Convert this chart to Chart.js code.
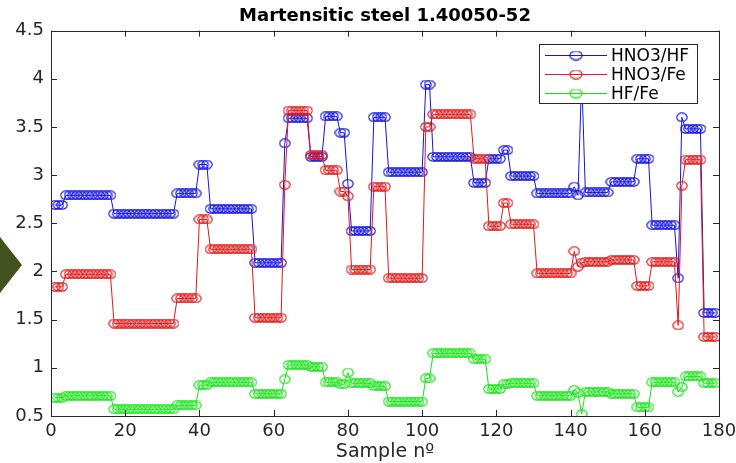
<!DOCTYPE html>
<html>
<head>
<meta charset="utf-8">
<script src="https://cdn.jsdelivr.net/npm/chart.js@4.4.0/dist/chart.umd.min.js"></script>
<style>
  html, body { margin: 0; padding: 0; background: #fff; }
  #wrap { width: 736px; height: 463px; }
</style>
</head>
<body>
<div id="wrap"><canvas id="myChart" width="736" height="463"></canvas></div>
<script>
// values, sample 1 .. 179
var hno3HF = [
  2.69, 2.69, 2.69,
  2.79, 2.79, 2.79, 2.79, 2.79, 2.79, 2.79, 2.79, 2.79, 2.79, 2.79, 2.79, 2.79,
  2.60, 2.60, 2.60, 2.60, 2.60, 2.60, 2.60, 2.60, 2.60, 2.60, 2.60, 2.60, 2.60, 2.60, 2.60, 2.60, 2.60,
  2.81, 2.81, 2.81, 2.81, 2.81, 2.81,
  3.11, 3.11, 3.11,
  2.65, 2.65, 2.65, 2.65, 2.65, 2.65, 2.65, 2.65, 2.65, 2.65, 2.65, 2.65,
  2.09, 2.09, 2.09, 2.09, 2.09, 2.09, 2.09, 2.09,
  3.33,
  3.59, 3.59, 3.59, 3.59, 3.59, 3.59,
  3.19, 3.19, 3.19, 3.19,
  3.61, 3.61, 3.61, 3.61,
  3.44, 3.44,
  2.91,
  2.42, 2.42, 2.42, 2.42, 2.42, 2.42,
  3.60, 3.60, 3.60, 3.60,
  3.03, 3.03, 3.03, 3.03, 3.03, 3.03, 3.03, 3.03, 3.03, 3.03,
  3.94, 3.94,
  3.19, 3.19, 3.19, 3.19, 3.19, 3.19, 3.19, 3.19, 3.19, 3.19, 3.19,
  2.92, 2.92, 2.92, 2.92,
  3.17, 3.17, 3.17, 3.17,
  3.26, 3.26,
  2.99, 2.99, 2.99, 2.99, 2.99, 2.99, 2.99,
  2.81, 2.81, 2.81, 2.81, 2.81, 2.81, 2.81, 2.81, 2.81, 2.81,
  2.88, 2.79, 4.02,
  2.82, 2.82, 2.82, 2.82, 2.82, 2.82, 2.82,
  2.93, 2.93, 2.93, 2.93, 2.93, 2.93, 2.93,
  3.17, 3.17, 3.17, 3.17,
  2.48, 2.48, 2.48, 2.48, 2.48, 2.48, 2.48,
  1.93, 3.60,
  3.48, 3.48, 3.48, 3.48, 3.48,
  1.57, 1.57, 1.57, 1.57
];

var hno3Fe = [
  1.84, 1.84, 1.84,
  1.97, 1.97, 1.97, 1.97, 1.97, 1.97, 1.97, 1.97, 1.97, 1.97, 1.97, 1.97, 1.97,
  1.46, 1.46, 1.46, 1.46, 1.46, 1.46, 1.46, 1.46, 1.46, 1.46, 1.46, 1.46, 1.46, 1.46, 1.46, 1.46, 1.46,
  1.72, 1.72, 1.72, 1.72, 1.72, 1.72,
  2.54, 2.54, 2.54,
  2.23, 2.23, 2.23, 2.23, 2.23, 2.23, 2.23, 2.23, 2.23, 2.23, 2.23, 2.23,
  1.52, 1.52, 1.52, 1.52, 1.52, 1.52, 1.52, 1.52,
  2.90,
  3.67, 3.67, 3.67, 3.67, 3.67, 3.67,
  3.21, 3.21, 3.21, 3.21,
  3.05, 3.05, 3.05, 3.05,
  2.83, 2.83,
  2.78,
  2.02, 2.02, 2.02, 2.02, 2.02, 2.02,
  2.88, 2.88, 2.88, 2.88,
  1.93, 1.93, 1.93, 1.93, 1.93, 1.93, 1.93, 1.93, 1.93, 1.93,
  3.50, 3.50,
  3.63, 3.63, 3.63, 3.63, 3.63, 3.63, 3.63, 3.63, 3.63, 3.63, 3.63,
  3.17, 3.17, 3.17, 3.17,
  2.47, 2.47, 2.47, 2.47,
  2.71, 2.71,
  2.49, 2.49, 2.49, 2.49, 2.49, 2.49, 2.49,
  1.98, 1.98, 1.98, 1.98, 1.98, 1.98, 1.98, 1.98, 1.98, 1.98,
  2.21, 2.05, 2.09,
  2.10, 2.10, 2.10, 2.10, 2.10, 2.10, 2.10,
  2.12, 2.12, 2.12, 2.12, 2.12, 2.12, 2.12,
  1.85, 1.85, 1.85, 1.85,
  2.10, 2.10, 2.10, 2.10, 2.10, 2.10, 2.10,
  1.44, 2.89,
  3.16, 3.16, 3.16, 3.16, 3.16,
  1.32, 1.32, 1.32, 1.32
];

var hfFe = [
  0.69, 0.69, 0.69,
  0.71, 0.71, 0.71, 0.71, 0.71, 0.71, 0.71, 0.71, 0.71, 0.71, 0.71, 0.71, 0.71,
  0.57, 0.57, 0.57, 0.57, 0.57, 0.57, 0.57, 0.57, 0.57, 0.57, 0.57, 0.57, 0.57, 0.57, 0.57, 0.57, 0.57,
  0.61, 0.61, 0.61, 0.61, 0.61, 0.61,
  0.82, 0.82, 0.82,
  0.85, 0.85, 0.85, 0.85, 0.85, 0.85, 0.85, 0.85, 0.85, 0.85, 0.85, 0.85,
  0.73, 0.73, 0.73, 0.73, 0.73, 0.73, 0.73, 0.73,
  0.88,
  1.03, 1.03, 1.03, 1.03, 1.03, 1.03,
  1.01, 1.01, 1.01, 1.01,
  0.85, 0.85, 0.85, 0.85,
  0.83, 0.83,
  0.95,
  0.84, 0.84, 0.84, 0.84, 0.84, 0.84,
  0.81, 0.81, 0.81, 0.81,
  0.65, 0.65, 0.65, 0.65, 0.65, 0.65, 0.65, 0.65, 0.65, 0.65,
  0.89, 0.89,
  1.15, 1.15, 1.15, 1.15, 1.15, 1.15, 1.15, 1.15, 1.15, 1.15, 1.15,
  1.09, 1.09, 1.09, 1.09,
  0.78, 0.78, 0.78, 0.78,
  0.83, 0.83,
  0.84, 0.84, 0.84, 0.84, 0.84, 0.84, 0.84,
  0.71, 0.71, 0.71, 0.71, 0.71, 0.71, 0.71, 0.71, 0.71, 0.71,
  0.77, 0.74, 0.52,
  0.75, 0.75, 0.75, 0.75, 0.75, 0.75, 0.75,
  0.73, 0.73, 0.73, 0.73, 0.73, 0.73, 0.73,
  0.59, 0.59, 0.59, 0.59,
  0.85, 0.85, 0.85, 0.85, 0.85, 0.85, 0.85,
  0.75, 0.80,
  0.91, 0.91, 0.91, 0.91, 0.91,
  0.84, 0.84, 0.84, 0.84
];

var seriesNames = ['HNO3/HF', 'HNO3/Fe', 'HF/Fe'];
var seriesColors = ['#1414e0', '#e41818', '#16e616'];
var xTicks = [0, 20, 40, 60, 80, 100, 120, 140, 160, 180];
var yTicks = [0.5, 1, 1.5, 2, 2.5, 3, 3.5, 4, 4.5];

var FONT = 'DejaVu Sans';
var AXIS_COL = '#262626';

// sample numbers are just the index + 1
var sampleNo = hno3HF.map(function (v, i) { return i + 1; });

function toPoints(arr) {
  return arr.map(function (v, i) { return { x: sampleNo[i], y: v }; });
}

// open marker, a bit wider than tall like in the picture
function ring(color, w, h) {
  var c = document.createElement('canvas');
  c.width = w; c.height = h;
  var g = c.getContext('2d');
  g.strokeStyle = color;
  g.lineWidth = 1.1;
  g.beginPath();
  g.ellipse(w / 2, h / 2, w / 2 - 0.8, h / 2 - 0.8, 0, 0, Math.PI * 2);
  g.stroke();
  return c;
}

// box round the axes with inward ticks on every side
var framePlugin = {
  id: 'frame',
  afterDatasetsDraw: function (chart) {
    var ctx = chart.ctx, a = chart.chartArea;
    var xs = chart.scales.x, ys = chart.scales.y;
    ctx.save();
    ctx.strokeStyle = AXIS_COL;
    ctx.lineWidth = 1;
    ctx.beginPath();
    xTicks.forEach(function (t) {
      var px = Math.round(xs.getPixelForValue(t)) + 0.5;
      ctx.moveTo(px, a.bottom); ctx.lineTo(px, a.bottom - 6);
      ctx.moveTo(px, a.top); ctx.lineTo(px, a.top + 6);
    });
    yTicks.forEach(function (t) {
      var py = Math.round(ys.getPixelForValue(t)) + 0.5;
      ctx.moveTo(a.left, py); ctx.lineTo(a.left + 6, py);
      ctx.moveTo(a.right, py); ctx.lineTo(a.right - 6, py);
    });
    ctx.stroke();
    ctx.strokeRect(Math.round(a.left) + 0.5, Math.round(a.top) + 0.5,
      Math.round(a.right - a.left), Math.round(a.bottom - a.top));
    ctx.restore();
  }
};

// legend in the upper right, inside the axes, drawn over the lines
var legendPlugin = {
  id: 'boxLegend',
  afterDatasetsDraw: function (chart) {
    var ctx = chart.ctx;
    var bx = 539.5, by = 44.5, bw = 158, bh = 59;
    ctx.save();
    ctx.fillStyle = '#fff';
    ctx.fillRect(bx, by, bw, bh);
    ctx.strokeStyle = AXIS_COL;
    ctx.lineWidth = 1;
    ctx.strokeRect(bx, by, bw, bh);
    ctx.font = '17px "' + FONT + '"';
    ctx.textBaseline = 'middle';
    ctx.textAlign = 'left';
    seriesNames.forEach(function (name, i) {
      var ry = Math.round(by + 10.5 + i * 19) + 0.5;
      ctx.strokeStyle = seriesColors[i];
      ctx.beginPath();
      ctx.moveTo(545, ry); ctx.lineTo(607, ry);
      ctx.stroke();
      ctx.drawImage(ring(seriesColors[i], 14, 10), 576 - 7, ry - 5);
      ctx.fillStyle = '#000';
      ctx.fillText(name, 611, ry + 1);
    });
    ctx.restore();
  }
};

// dark arrow tip at the left edge of the picture
var arrowPlugin = {
  id: 'arrowTip',
  afterDraw: function (chart) {
    var ctx = chart.ctx;
    ctx.save();
    ctx.fillStyle = '#44521f';
    ctx.beginPath();
    ctx.moveTo(0, 237);
    ctx.lineTo(22, 265);
    ctx.lineTo(0, 293);
    ctx.closePath();
    ctx.fill();
    ctx.restore();
  }
};

var ctx = document.getElementById('myChart').getContext('2d');
var datasets = [hno3HF, hno3Fe, hfFe].map(function (arr, i) {
  return {
    label: seriesNames[i],
    data: toPoints(arr),
    borderColor: seriesColors[i],
    backgroundColor: 'transparent',
    borderWidth: 1,
    pointStyle: ring(seriesColors[i], 12, 10),
    pointRadius: 5,
    pointHoverRadius: 5,
    tension: 0,
    order: 3 - i
  };
});

var chart = new Chart(ctx, {
  type: 'line',
  data: { datasets: datasets },
  options: {
    responsive: false,
    animation: false,
    events: [],
    layout: { padding: { left: 0, right: 17, top: 1, bottom: 0 } },
    plugins: {
      legend: { display: false },
      tooltip: { enabled: false },
      title: {
        display: true,
        text: 'Martensitic steel 1.40050-52',
        fullSize: false,
        color: '#000',
        font: { family: FONT, size: 18, weight: 'bold' },
        padding: { top: 5, bottom: 3 }
      }
    },
    scales: {
      x: {
        type: 'linear',
        min: 0,
        max: 180,
        afterBuildTicks: function (s) { s.ticks = xTicks.map(function (v) { return { value: v }; }); },
        afterFit: function (s) { s.height = 47; s.paddingLeft = 0; s.paddingRight = 0; },
        grid: { display: false, drawTicks: false },
        border: { display: false },
        ticks: {
          color: AXIS_COL,
          font: { family: FONT, size: 18 },
          padding: 5,
          maxRotation: 0,
          callback: function (v) { return String(v); }
        },
        title: {
          display: true,
          text: 'Sample nº',
          color: AXIS_COL,
          font: { family: FONT, size: 19 },
          padding: { top: 0, bottom: 0 }
        }
      },
      y: {
        min: 0.5,
        max: 4.5,
        afterBuildTicks: function (s) { s.ticks = yTicks.map(function (v) { return { value: v }; }); },
        afterFit: function (s) { s.width = 51; s.paddingTop = 0; s.paddingBottom = 0; },
        grid: { display: false, drawTicks: false },
        border: { display: false },
        ticks: {
          color: AXIS_COL,
          font: { family: FONT, size: 18 },
          padding: 7,
          callback: function (v) { return String(v); }
        }
      }
    }
  },
  plugins: [framePlugin, legendPlugin, arrowPlugin]
});
</script>
</body>
</html>
